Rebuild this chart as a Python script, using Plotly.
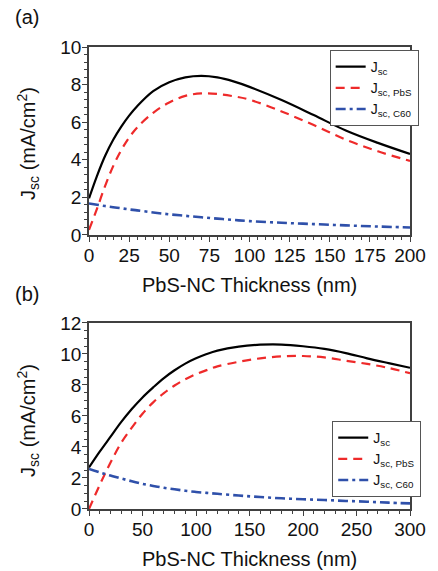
import plotly.graph_objects as go
from plotly.subplots import make_subplots

# Panel (a): thickness range 0-200 nm
thick_a = [0, 5, 10, 15, 20, 25, 30, 40, 50, 60, 70, 80, 90, 100, 120, 140, 160, 180, 200]
jsc_a = [1.95, 3.15, 4.2, 5.05, 5.75, 6.35, 6.85, 7.65, 8.12, 8.38, 8.46, 8.38, 8.17, 7.88,
         7.18, 6.38, 5.56, 4.9, 4.31]
jsc_pbs_a = [0.27, 1.4, 2.6, 3.65, 4.5, 5.18, 5.72, 6.5, 7.05, 7.4, 7.53, 7.5, 7.38, 7.2,
             6.57, 5.85, 5.07, 4.45, 3.94]
jsc_c60_a = [1.68, 1.61, 1.54, 1.48, 1.42, 1.36, 1.31, 1.2, 1.1, 1.02, 0.94, 0.87, 0.8, 0.74,
             0.65, 0.58, 0.51, 0.45, 0.40]

# Panel (b): thickness range 0-300 nm
thick_b = [0, 10, 20, 30, 40, 50, 60, 70, 80, 90, 100, 110, 120, 140, 160, 180, 200, 220,
           240, 260, 280, 300]
jsc_b = [2.68, 3.7, 4.65, 5.6, 6.45, 7.2, 7.85, 8.45, 8.95, 9.38, 9.72, 10.0, 10.22, 10.48,
         10.6, 10.61, 10.5, 10.33, 10.06, 9.72, 9.41, 9.11]
jsc_pbs_b = [0.0, 1.55, 2.98, 4.26, 5.25, 6.15, 6.88, 7.48, 7.97, 8.37, 8.7, 8.96, 9.2, 9.5,
             9.72, 9.85, 9.87, 9.78, 9.57, 9.36, 9.1, 8.76]
jsc_c60_b = [2.59, 2.36, 2.16, 1.97, 1.79, 1.62, 1.49, 1.37, 1.27, 1.18, 1.1, 1.04, 0.98, 0.87,
             0.77, 0.69, 0.63, 0.58, 0.52, 0.47, 0.41, 0.36]

series_names = ["J<sub>sc</sub>", "J<sub>sc, PbS</sub>", "J<sub>sc, C60</sub>"]
series_colors = ["#000000", "#ee2a2a", "#2f50aa"]
series_dash = ["solid", "9px,6px", "10px,4px,3px,4px"]
series_width = [2.2, 2.2, 2.6]

FONT = "Liberation Sans, Arial, sans-serif"

fig = make_subplots(rows=2, cols=1, vertical_spacing=0.19)

panels = [
    (thick_a, [jsc_a, jsc_pbs_a, jsc_c60_a], "legend"),
    (thick_b, [jsc_b, jsc_pbs_b, jsc_c60_b], "legend2"),
]
for row, (xs, ys_list, leg) in enumerate(panels, start=1):
    for name, ys, col, dash, w in zip(series_names, ys_list, series_colors, series_dash, series_width):
        fig.add_trace(
            go.Scatter(x=xs, y=ys, mode="lines", name=name, legend=leg,
                       line=dict(color=col, dash=dash, width=w, shape="spline", smoothing=1.0)),
            row=row, col=1,
        )

axis_common = dict(
    showline=True, linecolor="#404040", linewidth=1.5, mirror=True,
    ticks="outside", ticklen=5, tickwidth=1.2, tickcolor="#404040",
    showgrid=False, zeroline=False, ticklabelstandoff=-3,
    tickfont=dict(family=FONT, size=19, color="#111111"),
)

fig.update_xaxes(**axis_common)
fig.update_yaxes(**axis_common)

fig.update_xaxes(range=[0, 200], dtick=25, tick0=0,
                 minor=dict(dtick=5, ticks="outside", ticklen=3, tickcolor="#404040"),
                 row=1, col=1)
fig.update_yaxes(range=[0, 10], dtick=2, tick0=0,
                 minor=dict(dtick=0.4, ticks="outside", ticklen=3, tickcolor="#404040"),
                 row=1, col=1)
fig.update_xaxes(range=[0, 300], dtick=50, tick0=0,
                 minor=dict(dtick=10, ticks="outside", ticklen=3, tickcolor="#404040"),
                 row=2, col=1)
fig.update_yaxes(range=[0, 12], dtick=2, tick0=0,
                 minor=dict(dtick=0.5, ticks="outside", ticklen=3, tickcolor="#404040"),
                 row=2, col=1)

fig.update_layout(
    xaxis=dict(domain=[0, 1]),
    yaxis=dict(domain=[0.5931, 1.0]),
    xaxis2=dict(domain=[0, 1]),
    yaxis2=dict(domain=[0.0, 0.4026]),
)

legend_common = dict(
    bgcolor="white", bordercolor="#555555", borderwidth=1,
    font=dict(family=FONT, size=14, color="#111111"),
    xanchor="right", yanchor="top", tracegroupgap=0,
    itemwidth=30,
)
fig.update_layout(
    legend=dict(x=1.027, y=0.9935, **legend_common),
    legend2=dict(x=1.035, y=0.1905, **legend_common),
)

W, H = 438, 571
L, R, T, B = 89, 18, 47, 62
pw, ph = W - L - R, H - T - B

fig.update_layout(
    width=W, height=H,
    margin=dict(l=L, r=R, t=T, b=B),
    paper_bgcolor="white", plot_bgcolor="white",
    font=dict(family=FONT, size=19, color="#111111"),
    showlegend=True,
)


def px_to_paper(px, py):
    return (px - L) / pw, (H - B - py) / ph


def add_text(text, px, py, size, angle=0):
    x, y = px_to_paper(px, py)
    fig.add_annotation(text=text, x=x, y=y, xref="paper", yref="paper",
                       showarrow=False, textangle=angle,
                       xanchor="center", yanchor="middle",
                       font=dict(family=FONT, size=size, color="#111111"))


add_text("(a)", 25, 17, 20)
add_text("(b)", 25, 294, 20)
add_text("PbS-NC Thickness (nm)", 254, 285, 20)
add_text("PbS-NC Thickness (nm)", 254, 559, 20)
add_text("J<sub>sc</sub> (mA/cm<sup>2</sup>)", 26, 143, 20, angle=-90)
add_text("J<sub>sc</sub> (mA/cm<sup>2</sup>)", 26, 420, 20, angle=-90)

fig.write_html("out.html")
